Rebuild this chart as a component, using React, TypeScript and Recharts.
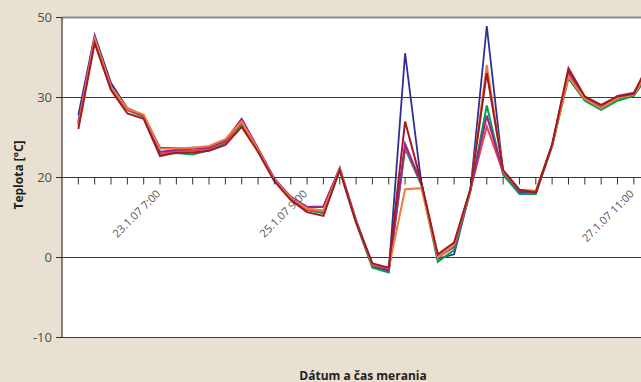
import React from "react";
import { LineChart, Line, XAxis, YAxis, CartesianGrid, ReferenceLine } from "recharts";

// sample index (one measurement per tick)
const sampleIndex = [0,1,2,3,4,5,6,7,8,9,10,11,12,13,14,15,16,17,18,19,20,21,22,23,24,25,26,27,28,29,30,31,32,33,34,35];

// x-axis labels (only these are printed in the original)
const labelIndexes = [5, 14, 34];
const labelTexts = ["23.1.07 7:00", "25.1.07 9:00", "27.1.07 11:00"];

// y-axis tick positions and the labels printed at them
const yTickValues = [-10, 5, 20, 35, 50];
const yTickLabels = ["-10", "0", "20", "30", "50"];

const seriesNavy = [31.7,46.7,37.7,33.0,31.6,25.6,25.5,25.6,25.6,26.8,30.8,25.4,19.7,16.3,14.5,14.6,21.6,11.9,3.3,2.4,43.3,18.8,4.8,5.6,17.6,48.4,21.0,17.2,17.0,26.0,39.6,34.6,33.0,34.8,35.5,40.5];
const seriesGreen = [30.2,45.6,36.8,32.6,31.4,24.3,24.6,24.3,25.1,26.5,30.0,25.0,19.4,16.0,13.9,13.3,21.3,11.5,3.1,2.2,25.4,18.6,4.2,6.4,17.4,33.5,20.5,16.9,16.9,25.9,38.6,34.4,32.7,34.4,35.3,39.7];
const seriesRed = [30.0,45.8,36.9,32.7,31.5,24.4,25.0,25.0,25.4,26.7,30.3,25.1,19.5,16.1,14.0,13.6,21.5,11.7,3.5,2.8,25.8,18.8,5.2,7.2,17.7,29.6,21.0,17.5,17.3,26.0,39.3,34.8,33.2,35.0,35.6,40.5];
const seriesPurple = [30.5,46.2,37.2,32.9,31.6,24.8,25.2,25.4,25.6,26.9,31.0,25.4,19.8,16.4,14.4,14.5,21.8,12.0,3.6,2.6,26.3,18.9,5.0,7.0,17.8,31.6,21.1,17.4,17.2,26.1,40.0,34.9,33.2,35.3,35.9,41.0];
const seriesOrange = [29.8,46.1,37.0,32.9,31.8,25.4,25.5,25.6,25.9,27.2,30.5,25.2,19.6,16.2,14.2,13.8,21.6,11.8,3.7,3.0,17.8,18.0,5.0,7.3,17.7,41.1,21.2,17.7,17.5,26.1,38.9,34.7,33.0,34.9,35.5,40.8];
const seriesDarkRed = [29.1,45.2,36.4,32.0,31.0,24.0,24.7,24.7,25.0,26.1,29.5,24.8,19.3,15.8,13.5,12.8,21.4,11.6,3.9,3.1,30.5,19.0,5.6,7.8,17.9,39.6,21.4,17.7,17.2,26.2,40.5,35.2,33.6,35.2,35.7,42.0];

const data = sampleIndex.map((i, k) => ({
  i,
  navy: seriesNavy[k],
  green: seriesGreen[k],
  red: seriesRed[k],
  purple: seriesPurple[k],
  orange: seriesOrange[k],
  darkred: seriesDarkRed[k],
}));

const BG = "#E8E1D2";
const PLOT_TOP = 17.5;
const PLOT_H = 320;
const Y20 = PLOT_TOP + ((50 - 20) / 60) * PLOT_H;
const FONT = "'Open Sans', 'DejaVu Sans', sans-serif";

const XTick = (props: any) => {
  const { x, payload } = props;
  const idx = payload.value;
  const li = labelIndexes.indexOf(idx);
  const ty = Y20 + 17;
  return (
    <g>
      <line x1={x} x2={x} y1={Y20} y2={Y20 + 7} stroke="#333" strokeWidth={1} />
      {li >= 0 && (
        <g transform={`translate(${x + 1}, ${ty}) rotate(-45)`}>
          <text
            x={0}
            y={0}
            textAnchor="end"
            fontSize={11}
            fontFamily={FONT}
            fill="#555"
          >
            {labelTexts[li]}
          </text>
        </g>
      )}
    </g>
  );
};

export default function App() {
  return (
    <div
      style={{
        position: "fixed",
        left: 0,
        top: 0,
        width: 641,
        height: 382,
        overflow: "hidden",
        background: BG,
      }}
    >
      <LineChart
        width={680}
        height={382}
        data={data}
        margin={{ top: PLOT_TOP, right: 13.5, bottom: 14.5, left: 0 }}
      >
        <CartesianGrid vertical={false} stroke="#3a3a3a" strokeWidth={1} fill="#ffffff" />
        <XAxis
          dataKey="i"
          type="number"
          domain={[-1, 36]}
          ticks={sampleIndex}
          interval={0}
          axisLine={false}
          tickLine={false}
          height={30}
          tick={<XTick />}
        />
        <YAxis
          type="number"
          domain={[-10, 50]}
          ticks={yTickValues}
          interval={0}
          width={62}
          axisLine={{ stroke: "#333", strokeWidth: 1.2 }}
          tickLine={{ stroke: "#333" }}
          tickSize={6}
          tickMargin={4}
          tick={{ fontSize: 13, fill: "#4d4d4d", fontFamily: FONT }}
          tickFormatter={(v: number) => yTickLabels[yTickValues.indexOf(v)] ?? ""}
        />
        <ReferenceLine y={50} stroke="#8a8a8a" strokeWidth={2} />
        <Line type="linear" dataKey="navy" stroke="#2E3192" strokeWidth={1.8} dot={false} isAnimationActive={false} />
        <Line type="linear" dataKey="green" stroke="#00A04F" strokeWidth={2} dot={false} isAnimationActive={false} />
        <Line type="linear" dataKey="red" stroke="#EF4050" strokeWidth={2} dot={false} isAnimationActive={false} />
        <Line type="linear" dataKey="purple" stroke="#92278F" strokeWidth={2} dot={false} isAnimationActive={false} />
        <Line type="linear" dataKey="orange" stroke="#F47A3C" strokeWidth={2} dot={false} isAnimationActive={false} />
        <Line type="linear" dataKey="darkred" stroke="#9E1B22" strokeWidth={2} dot={false} isAnimationActive={false} />
      </LineChart>
      <div
        style={{
          position: "absolute",
          left: 18,
          top: 175,
          transform: "translate(-50%, -50%) rotate(-90deg)",
          whiteSpace: "nowrap",
          fontFamily: FONT,
          fontWeight: 700,
          fontSize: 12,
          color: "#231F20",
        }}
      >
        Teplota [°C]
      </div>
      <div
        style={{
          position: "absolute",
          left: 363,
          top: 375,
          transform: "translate(-50%, -50%)",
          whiteSpace: "nowrap",
          fontFamily: FONT,
          fontWeight: 700,
          fontSize: 12,
          color: "#231F20",
        }}
      >
        Dátum a čas merania
      </div>
    </div>
  );
}
